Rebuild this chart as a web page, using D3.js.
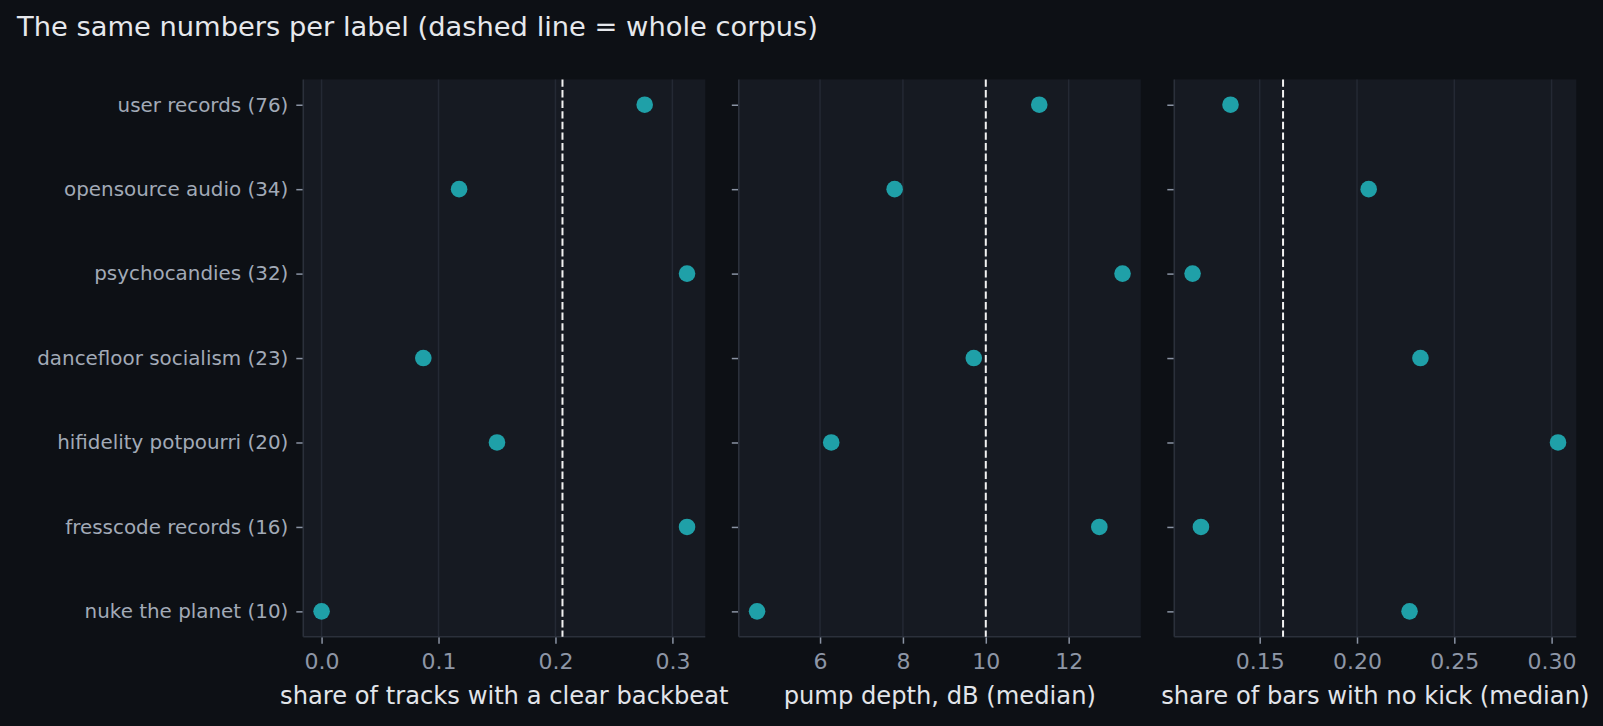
<!DOCTYPE html>
<html>
<head>
<meta charset="utf-8">
<script src="https://cdn.jsdelivr.net/npm/d3@7"></script>
<style>
  html, body { margin: 0; padding: 0; background: #0d1015; }
  svg { display: block; font-family: "DejaVu Sans", sans-serif; }
</style>
</head>
<body>
<div id="chart"></div>
<script>
// Data
const labels = [
  'user records (76)',
  'opensource audio (34)',
  'psychocandies (32)',
  'dancefloor socialism (23)',
  'hifidelity potpourri (20)',
  'fresscode records (16)',
  'nuke the planet (10)'
];
const backbeatShare = [0.2763, 0.1176, 0.3125, 0.0870, 0.15, 0.3125, 0.0];
const pumpDepth = [11.29, 7.80, 13.30, 9.71, 6.27, 12.74, 4.48];
const noKickShare = [0.135, 0.206, 0.1155, 0.2326, 0.3033, 0.1198, 0.227];
const corpusValues = [0.206, 10.0, 0.162];
const axisTitles = [
  'share of tracks with a clear backbeat',
  'pump depth, dB (median)',
  'share of bars with no kick (median)'
];
const tickValues = [[0, 0.1, 0.2, 0.3], [6, 8, 10, 12], [0.15, 0.20, 0.25, 0.30]];
const tickFormats = ['.1f', 'd', '.2f'];
const title = 'The same numbers per label (dashed line = whole corpus)';

const panels = [backbeatShare, pumpDepth, noKickShare].map((values, i) => ({
  values,
  corpus: corpusValues[i],
  title: axisTitles[i],
  ticks: tickValues[i],
  fmt: tickFormats[i]
}));

const width = 1603;
const height = 726;
const plotTop = 79.4;
const plotBottom = 636.7;
const firstLeft = 303.3;
const panelWidth = 402;
const panelGap = 33.5;

const svg = d3.select('#chart')
  .append('svg')
    .attr('width', width)
    .attr('height', height);

svg.append('rect')
  .attr('width', width)
  .attr('height', height)
  .attr('fill', '#0d1015');

svg.append('text')
  .attr('x', 17)
  .attr('y', 36)
  .attr('fill', '#e6e8ec')
  .attr('font-size', 27.3)
  .text(title);

// category scale shared by all panels (matplotlib-like 5% margin)
const y = d3.scaleLinear()
  .domain([-0.3, labels.length - 1 + 0.3])
  .range([plotTop, plotBottom]);

panels.forEach((p, i) => {
  const left = firstLeft + i * (panelWidth + panelGap);
  const [mn, mx] = d3.extent(p.values);
  const pad = (mx - mn) * 0.05;
  const x = d3.scaleLinear()
    .domain([mn - pad, mx + pad])
    .range([left, left + panelWidth]);

  const g = svg.append('g');

  g.append('rect')
    .attr('x', left)
    .attr('y', plotTop)
    .attr('width', panelWidth)
    .attr('height', plotBottom - plotTop)
    .attr('fill', '#161a22');

  // vertical grid
  g.selectAll('.grid')
    .data(p.ticks)
    .join('line')
      .attr('x1', d => x(d))
      .attr('x2', d => x(d))
      .attr('y1', plotTop)
      .attr('y2', plotBottom)
      .attr('stroke', '#242934')
      .attr('stroke-width', 1.5);

  // x axis
  const xAxis = g.append('g')
    .attr('transform', `translate(0,${plotBottom})`)
    .call(d3.axisBottom(x)
      .tickValues(p.ticks)
      .tickFormat(d3.format(p.fmt))
      .tickSizeInner(7)
      .tickSizeOuter(0)
      .tickPadding(10));
  xAxis.select('.domain').remove();
  xAxis.selectAll('.tick line').attr('stroke', '#8a93a3').attr('stroke-width', 1.5);
  xAxis.selectAll('.tick text')
    .attr('fill', '#8d96a6')
    .attr('font-size', 22)
    .attr('font-family', '"DejaVu Sans", sans-serif');

  // y axis (labels only on first panel)
  const yAxis = g.append('g')
    .attr('transform', `translate(${left},0)`)
    .call(d3.axisLeft(y)
      .tickValues(d3.range(labels.length))
      .tickFormat(d => i === 0 ? labels[d] : '')
      .tickSizeInner(7)
      .tickSizeOuter(0)
      .tickPadding(8));
  yAxis.select('.domain').remove();
  yAxis.selectAll('.tick line').attr('stroke', '#8a93a3').attr('stroke-width', 1.5);
  yAxis.selectAll('.tick text')
    .attr('fill', '#a2aab7')
    .attr('font-size', 19.9)
    .attr('font-family', '"DejaVu Sans", sans-serif');

  // spines: left and bottom
  g.append('line')
    .attr('x1', left).attr('x2', left)
    .attr('y1', plotTop).attr('y2', plotBottom)
    .attr('stroke', '#2b303b')
    .attr('stroke-width', 1.6);
  g.append('line')
    .attr('x1', left).attr('x2', left + panelWidth)
    .attr('y1', plotBottom).attr('y2', plotBottom)
    .attr('stroke', '#2b303b')
    .attr('stroke-width', 1.6);

  // corpus reference line
  g.append('line')
    .attr('x1', x(p.corpus))
    .attr('x2', x(p.corpus))
    .attr('y1', plotTop)
    .attr('y2', plotBottom)
    .attr('stroke', '#f2f2f2')
    .attr('stroke-width', 2)
    .attr('stroke-dasharray', '7.4,3.2');

  // points
  g.selectAll('.dot')
    .data(p.values)
    .join('circle')
      .attr('cx', d => x(d))
      .attr('cy', (d, j) => y(j))
      .attr('r', 8.3)
      .attr('fill', '#1fa0a8');

  // axis title
  g.append('text')
    .attr('x', left + panelWidth / 2)
    .attr('y', 704)
    .attr('text-anchor', 'middle')
    .attr('fill', '#e2e5ea')
    .attr('font-size', 24.2)
    .text(p.title);
});
</script>
</body>
</html>
